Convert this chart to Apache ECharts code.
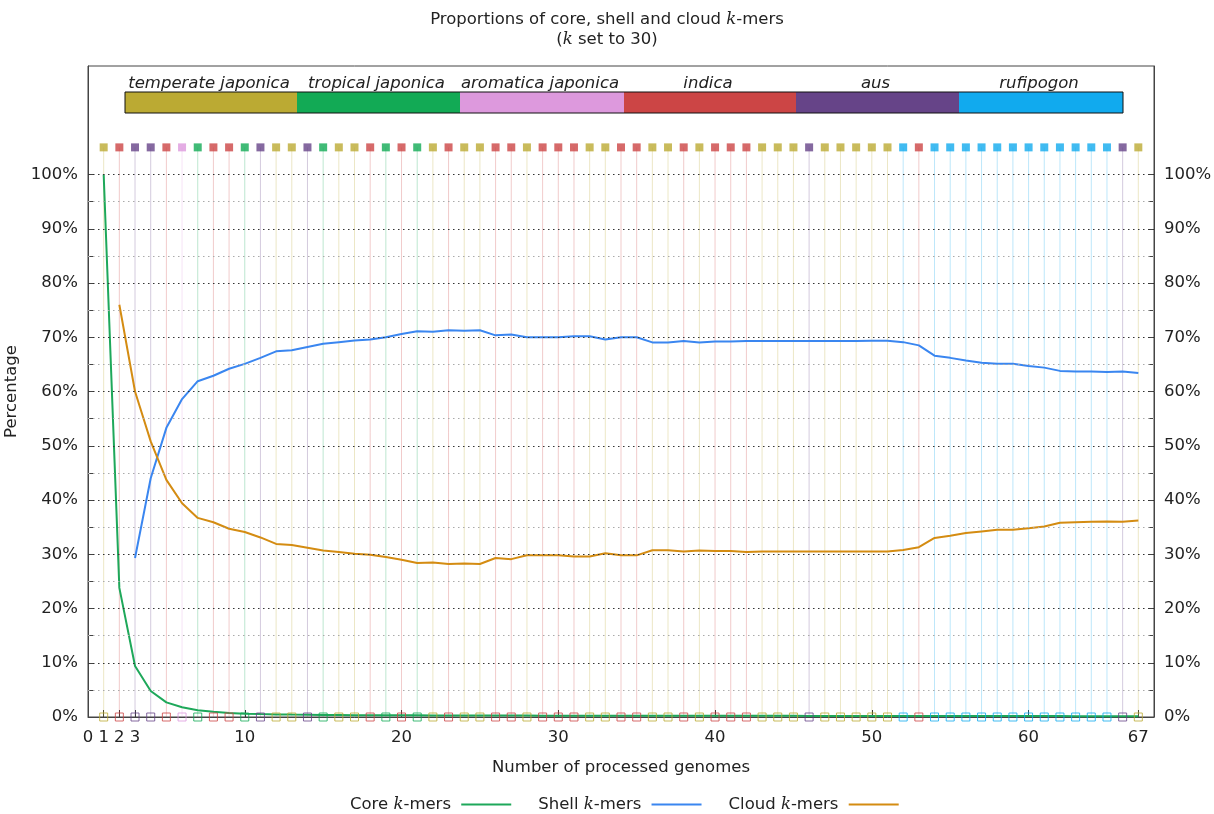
<!DOCTYPE html>
<html>
<head>
<meta charset="utf-8">
<script src="https://cdn.jsdelivr.net/npm/echarts@6/dist/echarts.min.js"></script>
<style>
html,body{margin:0;padding:0;background:#fff;}
#chart{width:1214px;height:814px;}
</style>
</head>
<body>
<div id="chart"></div>
<script>
// ---- data ----
const groupNames = ['temperate japonica','tropical japonica','aromatica japonica','indica','aus','rufipogon'];
const groupColors = ['#BBAA33','#12AA55','#DD99DD','#CC4545','#664488','#11AAEE'];
// group of genome number 1..67
const genomeGroup = [
  0,3,4,4,3,2,1,3,3,1,
  4,0,0,4,1,0,0,3,1,3,
  1,0,3,0,0,3,3,0,3,3,
  3,0,0,3,3,0,0,3,0,3,
  3,3,0,0,0,4,0,0,0,0,
  0,5,3,5,5,5,5,5,5,5,
  5,5,5,5,5,4,0
];
const genomeCounts = genomeGroup.map((g, i) => i + 1);
const coreValues = [
  100, 23.8, 9.4, 4.8, 2.7, 1.8, 1.25, 0.95, 0.75, 0.62,
  0.54, 0.48, 0.44, 0.41, 0.38, 0.36, 0.34, 0.33, 0.32, 0.31,
  0.30, 0.29, 0.28, 0.28, 0.27, 0.27, 0.26, 0.26, 0.25, 0.25,
  0.25, 0.24, 0.24, 0.24, 0.23, 0.23, 0.23, 0.22, 0.22, 0.22,
  0.22, 0.21, 0.21, 0.21, 0.21, 0.20, 0.20, 0.20, 0.20, 0.20,
  0.19, 0.19, 0.19, 0.18, 0.18, 0.18, 0.18, 0.17, 0.17, 0.17,
  0.17, 0.17, 0.16, 0.16, 0.16, 0.16, 0.16
];
const shellValues = [
  null, null, 29.3, 44.0, 53.3, 58.6, 61.9, 62.9, 64.2, 65.1,
  66.2, 67.4, 67.6, 68.2, 68.8, 69.1, 69.4, 69.6, 70.0, 70.6,
  71.1, 71.0, 71.3, 71.2, 71.3, 70.35, 70.5, 70.0, 70.0, 70.0,
  70.2, 70.2, 69.6, 70.0, 70.0, 69.05, 69.05, 69.3, 69.05, 69.2,
  69.2, 69.3, 69.3, 69.3, 69.3, 69.3, 69.3, 69.3, 69.3, 69.35,
  69.35, 69.1, 68.5, 66.6, 66.2, 65.7, 65.3, 65.1, 65.1, 64.7,
  64.4, 63.8, 63.7, 63.7, 63.6, 63.7, 63.4
];
const cloudValues = [
  null, 76.0, 60.0, 50.8, 43.7, 39.4, 36.7, 35.9, 34.7, 34.1,
  33.1, 31.9, 31.7, 31.2, 30.7, 30.4, 30.1, 29.9, 29.5, 29.0,
  28.4, 28.5, 28.2, 28.3, 28.2, 29.3, 29.1, 29.8, 29.8, 29.8,
  29.6, 29.6, 30.2, 29.8, 29.8, 30.75, 30.75, 30.5, 30.7, 30.6,
  30.6, 30.4, 30.5, 30.5, 30.5, 30.5, 30.5, 30.5, 30.5, 30.5,
  30.5, 30.8, 31.3, 33.0, 33.4, 33.9, 34.2, 34.5, 34.5, 34.8,
  35.1, 35.8, 35.9, 36.0, 36.05, 36.0, 36.2
];
const xLabelValues = [0, 1, 2, 3, 10, 20, 30, 40, 50, 60, 67];
const xTickValues = [1, 2, 3, 10, 20, 30, 40, 50, 60, 67];
const yLabelValues = [0, 10, 20, 30, 40, 50, 60, 70, 80, 90, 100];
const yTickValues = [0, 5, 10, 15, 20, 25, 30, 35, 40, 45, 50, 55, 60, 65, 70, 75, 80, 85, 90, 95, 100];
const markerLevel = 105;

// ---- chart ----
const FONT = 'DejaVu Sans';
const FS = 16.5;
const TXT = '#222';
const chart = echarts.init(document.getElementById('chart'), null, {renderer: 'canvas'});

const GRID = {left: 88, right: 60, top: 66, bottom: 97};

const pair = arr => genomeCounts.map((n, i) => [n, arr[i]]);

const gridMarkLines = yTickValues.filter(v => v > 0).map(v => ({
  yAxis: v,
  lineStyle: (v % 10 === 0)
    ? {color: '#333', width: 1, type: [1.5, 3.5]}
    : {color: '#aaa', width: 1, type: [1.5, 3.5]}
}));

// legend bar (top) - pixel layout of the group key
const barEdges = [125, 297, 460, 624, 796, 959, 1123];
const barTop = 92, barH = 21;
const graphics = [];
groupNames.forEach((name, i) => {
  const x0 = barEdges[i], x1 = barEdges[i + 1];
  graphics.push({
    type: 'rect', silent: true,
    shape: {x: x0, y: barTop, width: x1 - x0, height: barH},
    style: {fill: groupColors[i]}
  });
  graphics.push({
    type: 'text', silent: true,
    x: (x0 + x1) / 2 - 2, y: 84,
    style: {text: name, fill: TXT, font: 'italic ' + FS + 'px "DejaVu Sans"', align: 'center', verticalAlign: 'middle'}
  });
});
graphics.push({
  type: 'rect', silent: true,
  shape: {x: barEdges[0], y: barTop, width: barEdges[barEdges.length - 1] - barEdges[0], height: barH},
  style: {fill: 'none', stroke: '#111', lineWidth: 1}
});

const yAxisCommon = {
  type: 'value', min: 0, max: 120,
  axisLine: {show: true, lineStyle: {color: '#444', width: 1}},
  axisTick: {show: true, inside: true, length: 6, customValues: yTickValues, lineStyle: {color: '#444'}},
  axisLabel: {customValues: yLabelValues, formatter: '{value}%', color: TXT, fontFamily: FONT, fontSize: FS, margin: 10},
  splitLine: {show: false}
};

const option = {
  animation: false,
  backgroundColor: '#fff',
  textStyle: {fontFamily: FONT},
  title: {
    text: 'Proportions of core, shell and cloud {k|k}-mers\n({k|k} set to 30)',
    left: 'center', top: 5,
    textStyle: {
      fontFamily: FONT, fontSize: FS, fontWeight: 'normal', color: TXT, lineHeight: 20,
      rich: {k: {fontFamily: 'DejaVu Serif', fontStyle: 'italic', fontSize: FS, color: TXT, lineHeight: 20}}
    }
  },
  legend: {
    top: 791, left: 345,
    align: 'right',
    itemWidth: 50, itemHeight: 14, itemGap: 27,
    icon: 'path://M0,6 L50,6 L50,8 L0,8 Z',
    data: [
      {name: 'Core', itemStyle: {color: '#1EA85A'}},
      {name: 'Shell', itemStyle: {color: '#3A86F0'}},
      {name: 'Cloud', itemStyle: {color: '#D48C12'}}
    ],
    formatter: n => n + ' {k|k}-mers ',
    textStyle: {
      fontFamily: FONT, fontSize: FS, color: TXT,
      rich: {k: {fontFamily: 'DejaVu Serif', fontStyle: 'italic', fontSize: FS, color: TXT}}
    }
  },
  graphic: graphics,
  grid: Object.assign({show: true, borderColor: '#444', borderWidth: 1, backgroundColor: 'transparent', containLabel: false, outerBoundsMode: 'none'}, GRID),
  xAxis: {
    type: 'value', min: 0, max: 68,
    name: 'Number of processed genomes', nameLocation: 'middle', nameGap: 42,
    nameTextStyle: {fontFamily: FONT, fontSize: FS, color: TXT},
    axisLine: {show: true, onZero: false, lineStyle: {color: '#444'}},
    axisTick: {show: true, inside: true, length: 7, customValues: xTickValues, lineStyle: {color: '#333'}},
    axisLabel: {customValues: xLabelValues, color: TXT, fontFamily: FONT, fontSize: FS, margin: 12},
    splitLine: {show: false}
  },
  yAxis: [
    Object.assign({}, yAxisCommon, {
      position: 'left',
      name: 'Percentage', nameLocation: 'middle', nameGap: 64, nameRotate: 90,
      nameTextStyle: {fontFamily: FONT, fontSize: FS, color: TXT}
    }),
    Object.assign({}, yAxisCommon, {position: 'right'})
  ],
  series: [
    {
      name: 'genomeLines', type: 'custom', silent: true, z: 1,
      data: genomeCounts.map((n, i) => [n, genomeGroup[i]]),
      encode: {x: 0, y: -1},
      renderItem: (params, api) => {
        const n = api.value(0);
        const g = api.value(1);
        const p0 = api.coord([n, 0]);
        const p1 = api.coord([n, markerLevel]);
        return {
          type: 'line',
          shape: {x1: p0[0], y1: p0[1], x2: p1[0], y2: p1[1]},
          style: {stroke: groupColors[g], lineWidth: 1, opacity: 0.28}
        };
      },
      markLine: {
        silent: true, symbol: 'none', label: {show: false},
        data: gridMarkLines
      }
    },
    {
      name: 'Core', type: 'line', symbol: 'none', z: 3,
      data: pair(coreValues),
      lineStyle: {color: '#1EA85A', width: 2},
      itemStyle: {color: '#1EA85A'}
    },
    {
      name: 'Shell', type: 'line', symbol: 'none', z: 3, connectNulls: false,
      data: pair(shellValues),
      lineStyle: {color: '#3A86F0', width: 2},
      itemStyle: {color: '#3A86F0'}
    },
    {
      name: 'Cloud', type: 'line', symbol: 'none', z: 3,
      data: pair(cloudValues),
      lineStyle: {color: '#D48C12', width: 2},
      itemStyle: {color: '#D48C12'}
    },
    {
      name: 'topMarkers', type: 'scatter', symbol: 'rect', symbolSize: 8, silent: true, z: 4,
      data: genomeCounts.map((n, i) => ({value: [n, markerLevel], itemStyle: {color: groupColors[genomeGroup[i]]}}))
    },
    {
      name: 'bottomMarkers', type: 'scatter', symbol: 'rect', symbolSize: 8, silent: true, z: 4,
      data: genomeCounts.map((n, i) => ({value: [n, 0], itemStyle: {color: 'rgba(255,255,255,0)', borderColor: groupColors[genomeGroup[i]], borderWidth: 1}}))
    }
  ]
};
chart.setOption(option);
</script>
</body>
</html>
